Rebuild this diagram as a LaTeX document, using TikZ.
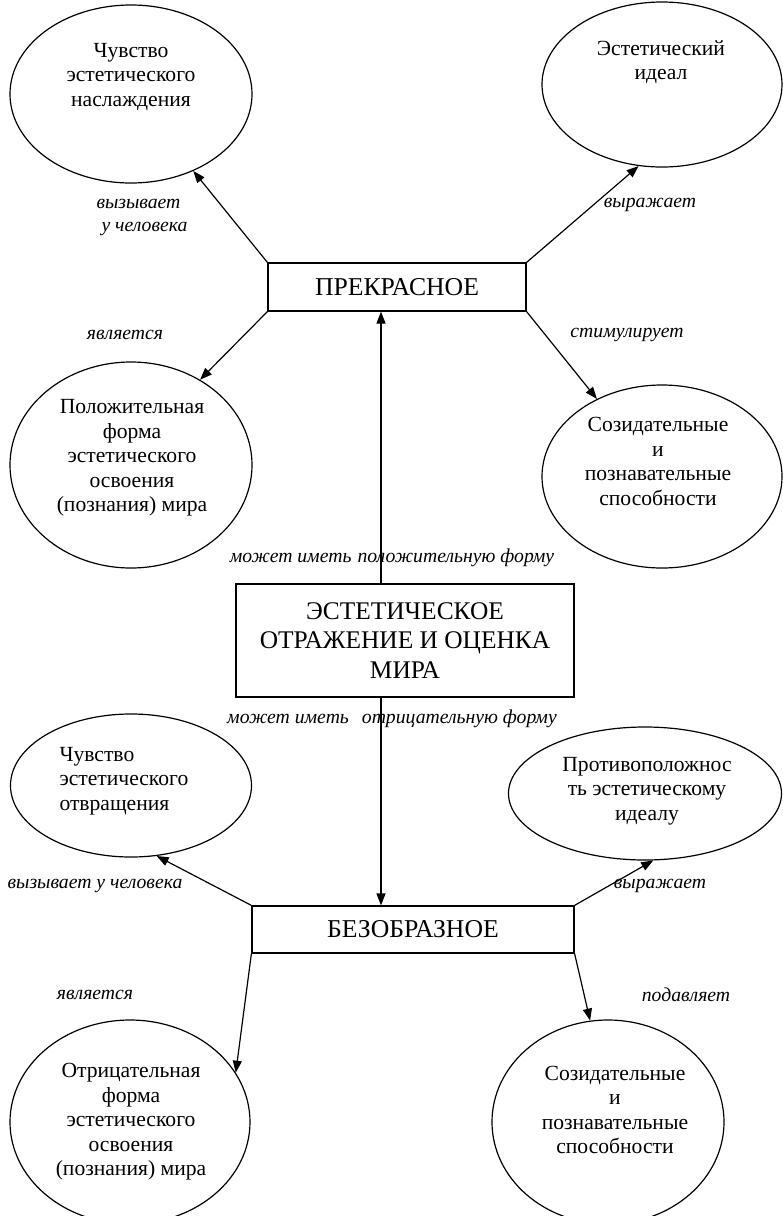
\documentclass[tikz,border=0pt]{standalone}
\usepackage{fontspec}
\setmainfont{Liberation Serif}
\usetikzlibrary{arrows.meta, shapes.geometric, calc}

\tikzset{
  oval/.style={draw, ellipse, line width=1.2pt, inner sep=0pt},
  card/.style={draw, line width=1.2pt, inner sep=0pt, align=center},
  txt/.style={align=center, font=\fontsize{21.6}{24.5}\selectfont},
  verb/.style={align=center, font=\fontsize{19.7}{23}\selectfont\itshape},
  link/.style={-{Triangle[length=12pt, width=9pt]}, line width=1.2pt}
}

\begin{document}
\begin{tikzpicture}[x=1pt, y=-1pt]

% Page frame
\useasboundingbox (0,0) rectangle (783,1216);

% ========== Central block ==========
\node[card, minimum width=338pt, minimum height=113pt,
      font=\fontsize{25.4}{29.5}\selectfont] (refl) at (405,640.5)
      {ЭСТЕТИЧЕСКОЕ\\ОТРАЖЕНИЕ И ОЦЕНКА\\МИРА};
\coordinate (axis) at (381,0);

\node[verb] (pos) at (392,558) {может иметь\hspace{6pt}положительную форму};
\node[verb] (neg) at (392,719) {может иметь\hspace{13pt}отрицательную форму};

% ========== Upper half: the beautiful ==========
\node[card, minimum width=258pt, minimum height=48pt,
      font=\fontsize{25.7}{28}\selectfont] (prekr) at (397,287) {ПРЕКРАСНОЕ};

% Ellipses
\node[oval, minimum width=242pt, minimum height=178pt] (e1) at (131,94) {};
\node[oval, minimum width=240pt, minimum height=165pt] (e2) at (662,84.5) {};
\node[oval, minimum width=242pt, minimum height=206pt] (e3) at (131,465) {};
\node[oval, minimum width=240pt, minimum height=183pt] (e4) at (662,476.5) {};

\node[txt] (e1t) at (131,77) {Чувство\\эстетического\\наслаждения};
\node[txt] (e2t) at (661,62) {Эстетический\\идеал};
\node[txt] (e3t) at (132,458) {Положительная\\форма\\эстетического\\освоения\\(познания) мира};
\node[txt] (e4t) at (658,461.5) {Созидательные\\и\\познавательные\\способности};

% Relation labels
\node[verb, align=left, anchor=west] (l1) at (93,217) {вызывает\\\hspace*{5pt}у человека};
\node[verb] (l2) at (650,205) {выражает};
\node[verb] (l3) at (125,335) {является};
\node[verb] (l4) at (627,335) {стимулирует};

% Arrows
\draw[link] (prekr.north west) -- (e1.309);
\draw[link] (prekr.north east) -- (e2.254);
\draw[link] (prekr.south west) -- (e3.51);
\draw[link] (prekr.south east) -- (e4.130);
\draw[link] (refl.north -| axis) -- (prekr.south -| axis);

% ========== Lower half: the ugly ==========
\node[card, minimum width=322pt, minimum height=47pt,
      font=\fontsize{25.7}{28}\selectfont] (bezobr) at (413,929.5) {БЕЗОБРАЗНОЕ};

% Ellipses
\node[oval, minimum width=241pt, minimum height=143pt] (e6) at (131,785.5) {};
\node[oval, minimum width=273pt, minimum height=133pt] (e7) at (645,793.5) {};
\node[oval, minimum width=240pt, minimum height=204pt] (e5) at (130,1122) {};
\node[oval, minimum width=232pt, minimum height=204pt] (e8) at (608,1122) {};

\node[txt, align=left, anchor=west] (e6t) at (56,781) {Чувство\\эстетического\\отвращения};
\node[txt] (e7t) at (647,791) {Противоположнос\\ть эстетическому\\идеалу};
\node[txt] (e5t) at (131,1122) {Отрицательная\\форма\\эстетического\\освоения\\(познания) мира};
\node[txt] (e8t) at (615,1110) {Созидательные\\и\\познавательные\\способности};

% Relation labels
\node[verb] (l7) at (95,886) {вызывает у человека};
\node[verb] (l8) at (660,886) {выражает};
\node[verb] (l9) at (95,995) {является};
\node[verb] (l10) at (686,995) {подавляет};

% Arrows
\draw[link] (bezobr.north west) -- (e6.290);
\draw[link] (bezobr.north east) -- (e7.277);
\draw[link] (bezobr.south west) -- (e5.25);
\draw[link] (bezobr.south east) -- (e8.100);
\draw[link] (refl.south -| axis) -- (bezobr.north -| axis);

\end{tikzpicture}
\end{document}
